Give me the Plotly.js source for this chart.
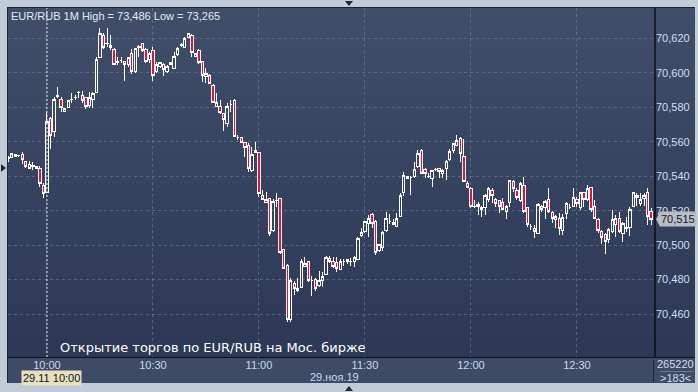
<!DOCTYPE html>
<html>
<head>
<meta charset="utf-8">
<script src="https://cdn.plot.ly/plotly-3.0.1.min.js"></script>
<style>
  html, body { margin:0; padding:0; }
  body { width:698px; height:392px; overflow:hidden; position:relative; background:#c2ccd8; }
  #panel { position:absolute; left:7px; top:7px; width:688px; height:351px; background:linear-gradient(#404e6a, #2c3855); border-left:1px solid #1b2231; border-top:1px solid #1b2231; box-sizing:border-box; }
  #band { position:absolute; left:7px; top:357px; width:688px; height:26px; background:#3e4b66; border-top:1px solid #0d1118; border-left:1px solid #1b2231; box-sizing:border-box; }
  #chart { position:absolute; left:0; top:0; width:698px; height:392px; }
  #chart .boxlayer path, #chart .gridlayer path { shape-rendering: crispEdges; }
  .tri { position:absolute; width:0; height:0; }
</style>
</head>
<body>
<div id="panel"></div>
<div id="band"></div>
<div class="tri" style="left:345px;top:1px;border-left:4px solid transparent;border-right:4px solid transparent;border-top:5px solid #1f2634;"></div>
<div class="tri" style="left:1px;top:164px;border-top:4px solid transparent;border-bottom:4px solid transparent;border-left:5px solid #1f2634;"></div>
<div class="tri" style="left:345px;top:386px;border-left:4px solid transparent;border-right:4px solid transparent;border-bottom:5px solid #1f2634;"></div>
<div style="position:absolute;left:660px;top:371px;width:33px;height:1px;background:#6e7a92;"></div>
<div style="position:absolute;left:653px;top:360px;width:1px;height:22px;background:#1e2433;"></div>
<div id="chart"></div>
<script>
// 1-minute candles, 29.11.2019, 09:49 .. 12:51
const startTime = '2019-11-29 09:49';
const openPrices = [
70.551,70.551,70.5515,70.552,70.5527,70.5488,70.5469,70.546,70.5446,70.5442,70.5349,
70.5305,70.5732,70.5658,70.5863,70.5848,70.5778,70.58,70.5846,70.5857,70.5884,70.5871,70.5858,70.5813,70.5846,70.5885,70.609,70.6219,70.6171,70.6161,70.6136,
70.6064,70.6074,70.6068,70.6049,70.6113,70.6006,70.6146,70.6171,70.6138,70.6078,
70.6128,70.6006,70.6035,70.6049,70.6006,70.6061,70.6026,70.6107,70.6161,70.6147,70.6204,70.6219,70.6097,70.6132,70.6068,70.5981,70.5987,70.5929,70.5807,70.5807,
70.5761,70.5703,70.5819,70.5842,70.5626,70.5624,70.5595,70.5581,70.5436,70.5537,
70.5539,70.5291,70.5249,70.5268,70.5084,70.5258,70.5268,70.4972,70.488,70.4566,
70.4779,70.4736,70.4756,70.4875,70.4908,70.4794,70.4798,70.4763,70.4794,70.4831,
70.492,70.4904,70.4901,70.486,70.4904,70.4918,70.4904,70.4904,70.4918,70.5055,
70.5078,70.5127,70.5175,70.5136,70.4968,70.4986,70.5084,70.5136,70.5121,70.5107,
70.5169,70.5305,70.5397,70.5393,70.5397,70.5455,70.5552,70.544,70.5397,70.5388,
70.544,70.5446,70.5417,70.5446,70.5498,70.5548,70.5581,70.562,70.5517,70.5359,
70.533,70.5223,70.5233,70.5219,70.5219,70.5266,70.532,70.5266,70.5258,70.5247,
70.5194,70.5247,70.5368,70.532,70.5258,70.5349,70.522,70.5107,70.5098,70.5069,
70.5227,70.522,70.5266,70.5189,70.515,70.5156,70.5084,70.5181,70.522,70.5227,
70.5266,70.522,70.5305,70.5266,70.5336,70.5227,70.515,70.5078,70.5059,70.5034,
70.5078,70.5117,70.5156,70.5069,70.5098,70.5104,70.5227,70.5291,70.5239,70.5272,
70.5305,70.5194
];
const highPrices = [
70.552,70.553,70.553,70.5522,70.5539,70.549,70.549,70.548,70.546,70.5459,70.5359,
70.5765,70.5745,70.5861,70.5919,70.5861,70.5796,70.5845,70.5881,70.5871,70.5896,70.5896,70.5861,70.5887,70.589,70.6093,70.6258,70.6229,70.6258,70.6219,70.6142,
70.609,70.609,70.607,70.6093,70.6136,70.6144,70.6161,70.6175,70.6142,70.6122,
70.6151,70.6064,70.6064,70.6055,70.6043,70.6064,70.6118,70.6147,70.6175,70.6209,70.6232,70.6225,70.6116,70.6136,70.6068,70.6026,70.5991,70.5935,70.5881,70.5842,
70.5765,70.5823,70.5842,70.5848,70.5639,70.563,70.5601,70.5591,70.5571,70.5601,
70.5539,70.532,70.531,70.5272,70.5266,70.5301,70.5268,70.4976,70.4891,70.4808,
70.4794,70.4812,70.4918,70.4933,70.491,70.4821,70.4808,70.4852,70.4846,70.4937,
70.4937,70.493,70.493,70.4918,70.492,70.492,70.4924,70.4937,70.5046,70.5098,
70.5142,70.5175,70.5189,70.5146,70.5007,70.5084,70.5194,70.518,70.515,70.5189,
70.5301,70.5426,70.5401,70.5401,70.5484,70.5552,70.5556,70.5446,70.542,70.5436,
70.5446,70.545,70.544,70.5494,70.5556,70.5595,70.5639,70.5626,70.5614,70.5374,
70.5339,70.5262,70.5252,70.5227,70.5297,70.5336,70.533,70.5272,70.5262,70.5272,
70.5233,70.5378,70.5378,70.533,70.5368,70.5397,70.5223,70.5123,70.5117,70.5243,
70.5233,70.5262,70.533,70.52,70.5175,70.5185,70.5181,70.5252,70.5239,70.533,
70.5277,70.531,70.531,70.5349,70.5339,70.5262,70.5156,70.5088,70.5069,70.5098,
70.5204,70.5175,70.5194,70.5136,70.5165,70.5219,70.531,70.5301,70.5305,70.5305,
70.533,70.5214
];
const lowPrices = [
70.548,70.551,70.551,70.551,70.5471,70.545,70.544,70.5436,70.544,70.534,70.5276,
70.530,70.556,70.5626,70.5852,70.5774,70.5776,70.5798,70.5827,70.5842,70.5852,70.5823,70.5788,70.5794,70.5794,70.5881,70.6084,70.6136,70.6151,70.6132,70.6045,
70.6045,70.6055,70.5954,70.6035,70.5993,70.5997,70.6093,70.6122,70.6059,70.6055,
70.5954,70.5997,70.6026,70.5981,70.6001,70.6045,70.602,70.6097,70.6147,70.6142,70.6202,70.6093,70.6093,70.6049,70.5948,70.5939,70.5935,70.5823,70.58,70.5759,
70.5664,70.5687,70.5774,70.5626,70.561,70.5591,70.5513,70.5426,70.5426,70.5533,
70.5278,70.5262,70.5247,70.5055,70.5078,70.5223,70.4949,70.486,70.4556,70.4556,
70.4711,70.473,70.475,70.4871,70.4788,70.4705,70.4736,70.4759,70.4756,70.4827,
70.4899,70.4866,70.4846,70.4856,70.4879,70.4891,70.4879,70.4875,70.4918,70.5046,
70.5073,70.5046,70.5098,70.4943,70.4962,70.4968,70.5078,70.5123,70.5117,70.5103,
70.5161,70.5285,70.5382,70.5291,70.5388,70.5446,70.5413,70.5388,70.5388,70.5335,
70.5432,70.5388,70.5388,70.5378,70.549,70.5533,70.5575,70.5484,70.5368,70.533,
70.5214,70.5214,70.5175,70.5165,70.5175,70.5252,70.5243,70.5219,70.5189,70.5204,
70.5154,70.522,70.531,70.5262,70.5252,70.5189,70.5107,70.5088,70.504,70.5065,
70.5194,70.515,70.5189,70.5127,70.5098,70.5059,70.5059,70.515,70.5208,70.522,
70.522,70.5204,70.522,70.5258,70.5194,70.515,70.5069,70.5007,70.4949,70.5015,
70.5069,70.5049,70.5069,70.502,70.5078,70.5053,70.5223,70.5227,70.5227,70.5227,
70.5117,70.5117
];
const closePrices = [
70.550,70.553,70.5527,70.5518,70.5498,70.5456,70.5446,70.5459,70.5459,70.5359,70.5301,
70.572,70.5639,70.5848,70.5866,70.5798,70.5794,70.5842,70.5848,70.5859,70.5886,70.5842,70.5807,70.5858,70.5881,70.6078,70.6229,70.6147,70.6169,70.6147,70.6049,
70.6062,70.6074,70.6049,70.609,70.6006,70.614,70.6155,70.6128,70.6064,70.6113,
70.5987,70.6049,70.6059,70.602,70.6039,70.6049,70.6097,70.614,70.6163,70.62,70.6229,70.6118,70.6113,70.6059,70.5987,70.5997,70.5939,70.5827,70.5827,70.5769,
70.573,70.5803,70.5819,70.5633,70.5626,70.5595,70.5568,70.5446,70.5527,70.5552,
70.5301,70.5266,70.5262,70.5069,70.5252,70.5258,70.4957,70.4866,70.4566,70.4794,
70.475,70.475,70.4904,70.4891,70.4794,70.4794,70.475,70.4794,70.4821,70.493,
70.4904,70.4875,70.4866,70.4904,70.4904,70.4904,70.4906,70.493,70.504,70.5073,
70.5136,70.5156,70.5127,70.4957,70.5001,70.5073,70.5156,70.5136,70.513,70.5156,
70.5291,70.5407,70.5388,70.5393,70.544,70.5533,70.5417,70.5417,70.5397,70.5432,
70.544,70.5426,70.5432,70.5484,70.5542,70.5591,70.561,70.5529,70.5372,70.5335,
70.5223,70.5223,70.5223,70.5204,70.5291,70.533,70.5291,70.5239,70.5223,70.5208,
70.5227,70.5374,70.533,70.5277,70.5359,70.5194,70.5117,70.5107,70.5078,70.5237,
70.5208,70.5252,70.5194,70.5156,70.5165,70.5098,70.5162,70.5239,70.522,70.5277,
70.5239,70.5305,70.5262,70.533,70.5208,70.5156,70.5084,70.5046,70.502,70.5092,
70.515,70.5156,70.5078,70.5127,70.51,70.5208,70.5305,70.5277,70.5262,70.5291,
70.5169,70.515
];
const xTickTimes = ['2019-11-29 10:00','2019-11-29 10:30','2019-11-29 11:00','2019-11-29 11:30','2019-11-29 12:00','2019-11-29 12:30'];
const xTickLabels = ['10:00','10:30','11:00','11:30','12:00','12:30'];
const yTickVals = [70.46,70.48,70.50,70.52,70.54,70.56,70.58,70.60,70.62];
const yTickLabels = ['70,460','70,480','70,500','70,520','70,540','70,560','70,580','70,600','70,620'];
const xRange = ['2019-11-29 09:48:58','2019-11-29 12:52:06'];
const yRange = [70.4351, 70.6376];
const markerTime = '2019-11-29 10:00';
const titleText = 'EUR/RUB 1M High = 73,486 Low = 73,265';
const captionText = 'Открытие торгов по EUR/RUB на Мос. бирже';
const dateTag = '29.11 10:00';
const dateLabel = '29.ноя.19';
const volumeText = '265220';
const countText = '>183<';

// minute timestamps for the candles
function pad(n){ return (n<10?'0':'')+n; }
const times = [];
{
  const [d, hm] = startTime.split(' ');
  let [h, m] = hm.split(':').map(Number);
  for (let i = 0; i < openPrices.length; i++) {
    times.push(d + ' ' + pad(h) + ':' + pad(m));
    m++; if (m === 60) { m = 0; h++; }
  }
}
const lastClose = closePrices[closePrices.length - 1];
const lastLabel = lastClose.toFixed(3).replace('.', ',');

const FONT = '"Liberation Sans Narrow", "Liberation Sans", Arial, sans-serif';
const gridCol = 'rgba(112,128,160,0.6)';

const trace = {
  type: 'candlestick',
  x: times, open: openPrices, high: highPrices, low: lowPrices, close: closePrices,
  increasing: { line: { color: '#ffffff', width: 1 }, fillcolor: 'rgba(0,0,0,0)' },
  decreasing: { line: { color: '#ffffff', width: 1 }, fillcolor: '#ec0c38' },
  whiskerwidth: 0,
  hoverinfo: 'skip',
  showlegend: false
};

const layout = {
  width: 698, height: 392,
  margin: { l: 8, r: 43, t: 8, b: 35, pad: 0 },
  paper_bgcolor: 'rgba(0,0,0,0)', plot_bgcolor: 'rgba(0,0,0,0)',
  showlegend: false,
  boxgap: 0.05,
  xaxis: {
    type: 'date', range: xRange, rangeslider: { visible: false },
    tickmode: 'array', tickvals: xTickTimes, ticktext: xTickLabels,
    showgrid: true, gridcolor: gridCol, griddash: '3px,3px', gridwidth: 1,
    zeroline: false, showline: false, ticks: '',
    tickfont: { family: FONT, size: 11, color: '#c9d8f0' },
    fixedrange: true
  },
  yaxis: {
    side: 'right', range: yRange,
    tickmode: 'array', tickvals: yTickVals, ticktext: yTickLabels,
    showgrid: true, gridcolor: gridCol, griddash: '3px,3px', gridwidth: 1,
    zeroline: false, showline: false, ticks: '',
    tickfont: { family: FONT, size: 11, color: '#d2def2' },
    fixedrange: true
  },
  shapes: [
    { type: 'line', xref: 'x', yref: 'paper', x0: markerTime, x1: markerTime, y0: 0, y1: 1,
      line: { color: 'rgba(255,255,255,0.9)', width: 1, dash: '2px,2px' } },
    { type: 'line', xref: 'paper', yref: 'paper', x0: 1, x1: 1, y0: 0, y1: 1,
      line: { color: '#000000', width: 1.2 } },
    { type: 'path', xref: 'paper', yref: 'y', xsizemode: 'pixel', ysizemode: 'pixel',
      xanchor: 1, yanchor: lastClose, path: 'M 1 0 L 5 -7 L 5 7 Z',
      fillcolor: '#b8bdc6', line: { width: 0 } }
  ],
  annotations: [
    { text: titleText, xref: 'paper', yref: 'paper', x: 0, y: 1, xanchor: 'left', yanchor: 'top',
      xshift: 1, yshift: 0, showarrow: false, font: { family: FONT, size: 11, color: '#e4eaf4' } },
    { text: captionText, xref: 'paper', yref: 'paper', x: 0.0773, y: 0, xanchor: 'left', yanchor: 'bottom',
      showarrow: false, font: { family: '"DejaVu Sans", sans-serif', size: 13, color: '#ffffff' } },
    { text: lastLabel, xref: 'paper', yref: 'y', x: 1, y: lastClose, xanchor: 'left', yanchor: 'middle',
      xshift: 4, showarrow: false, bgcolor: '#b8bdc6', borderpad: 1,
      font: { family: FONT, size: 11, color: '#15181e' } },
    { text: dateTag, xref: 'x', yref: 'paper', x: markerTime, y: 0, xanchor: 'left', yanchor: 'middle',
      xshift: -26, yshift: -21, showarrow: false, bgcolor: '#e6dfc0', borderpad: 1,
      font: { family: FONT, size: 11, color: '#111111' } },
    { text: dateLabel, xref: 'paper', yref: 'paper', x: 0.504, y: 0, xanchor: 'center', yanchor: 'middle',
      yshift: -20, showarrow: false, font: { family: FONT, size: 11, color: '#c9d8f0' } },
    { text: volumeText, xref: 'paper', yref: 'paper', x: 1, y: 0, xanchor: 'center', yanchor: 'middle',
      xshift: 20, yshift: -7, showarrow: false, font: { family: FONT, size: 11, color: '#d2def2' } },
    { text: countText, xref: 'paper', yref: 'paper', x: 1, y: 0, xanchor: 'center', yanchor: 'middle',
      xshift: 20, yshift: -21, showarrow: false, font: { family: FONT, size: 11, color: '#d2def2' } }
  ]
};

Plotly.newPlot('chart', [trace], layout, { displayModeBar: false, staticPlot: true });
</script>
</body>
</html>
